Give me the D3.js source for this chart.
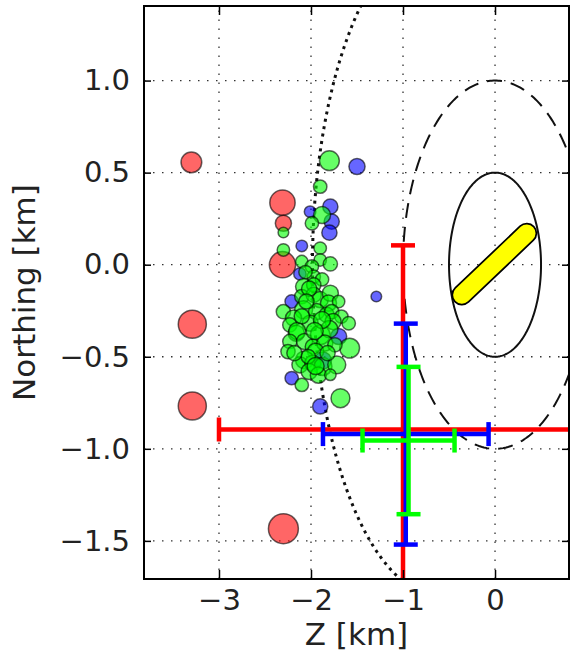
<!DOCTYPE html>
<html>
<head>
<meta charset="utf-8">
<script src="https://cdn.jsdelivr.net/npm/d3@7"></script>
<style>
    body { margin: 0; background: #fff; }
    svg { display: block; font-family: "DejaVu Sans", sans-serif; }
</style>
</head>
<body>
<div id="chart"></div>
<script>
// event locations [Z km, Northing km, magnitude]
var redEvents = [
    [-3.30, 0.556, 1.6], [-2.31, 0.337, 2.1], [-2.30, 0.225, 1.1], [-2.31, 0.0, 2.2],
    [-3.29, -0.323, 2.4], [-3.29, -0.767, 2.4], [-2.30, -1.434, 2.6]
];
var blueEvents = [
    [-1.50, 0.533, 1.1], [-1.79, 0.315, 1.0], [-2.01, 0.288, 0.6], [-1.775, 0.234, 1.0],
    [-1.80, 0.174, 1.0], [-2.10, 0.102, 0.6], [-2.12, -0.05, 0.7], [-1.29, -0.173, 0.5],
    [-2.21, -0.20, 0.8], [-1.70, -0.39, 1.1], [-1.87, -0.52, 1.2], [-2.21, -0.616, 0.8],
    [-1.90, -0.77, 1.0]
];
var greenEvents = [
    [-1.80, 0.565, 1.5], [-1.90, 0.424, 0.8], [-1.88, 0.27, 1.2], [-1.99, 0.225, 0.8],
    [-2.30, 0.175, 0.5], [-2.30, 0.08, 0.7], [-1.90, 0.09, 0.7], [-1.90, 0.026, 0.7],
    [-1.79, 0.004, 0.9], [-2.10, 0.017, 0.7], [-1.99, -0.01, 0.8], [-1.97, -0.065, 0.8],
    [-2.06, -0.04, 0.8], [-1.88, -0.08, 0.8],
    [-2.08, -0.119, 1.1], [-1.97, -0.11, 0.9], [-2.10, -0.173, 0.9], [-1.97, -0.164, 1.0],
    [-1.90, -0.19, 1.1], [-1.79, -0.155, 1.1], [-1.81, -0.209, 1.1], [-1.70, -0.20, 0.7],
    [-2.30, -0.255, 0.9], [-2.08, -0.245, 1.3], [-1.94, -0.255, 1.1], [-1.83, -0.273, 1.0],
    [-1.775, -0.255, 0.9], [-1.67, -0.282, 0.8], [-2.19, -0.29, 1.1], [-1.76, -0.309, 1.1],
    [-1.59, -0.318, 0.8], [-2.23, -0.327, 0.9], [-2.01, -0.318, 1.1], [-2.16, -0.372, 1.1],
    [-1.90, -0.381, 1.5], [-1.80, -0.35, 1.2], [-2.15, -0.36, 1.2], [-2.23, -0.417, 0.9],
    [-2.07, -0.417, 1.1], [-1.98, -0.445, 1.0], [-1.85, -0.426, 1.1], [-1.58, -0.453, 1.5],
    [-1.74, -0.435, 0.9], [-2.25, -0.472, 0.9], [-1.95, -0.47, 1.1], [-2.07, -0.517, 1.3],
    [-2.12, -0.544, 1.1], [-1.98, -0.535, 1.1], [-1.87, -0.553, 1.3], [-1.72, -0.544, 1.3],
    [-2.03, -0.499, 0.9], [-2.02, -0.58, 1.1], [-1.92, -0.60, 1.1], [-1.79, -0.598, 0.6],
    [-2.10, -0.653, 0.8], [-1.68, -0.725, 1.4], [-2.02, -0.13, 1.0], [-1.88, -0.30, 1.2],
    [-2.10, -0.28, 1.0], [-1.96, -0.36, 1.2], [-1.82, -0.48, 1.0], [-2.18, -0.48, 1.0],
    [-1.95, -0.55, 1.2], [-2.05, -0.20, 1.0]
];

// mean location with uncertainty [z, n, zErr, nErr]
var errRed = [-1.0, -0.895, 2.0, 1.0];
var errBlue = [-0.97, -0.92, 0.9, 0.6];
var errGreen = [-0.94, -0.955, 0.5, 0.4];

// ellipses [cz, cn, rz, rn]
var outerCurve = [-0.584, 0, 1.4, 1.8];
var dashedRing = [0, 0, 1.0, 1.0];
var solidRing = [0, 0, 0.5, 0.5];

// fault trace [[z, n], [z, n]]
var fault = [[-0.36, -0.164], [0.345, 0.171]];

var xTicks = [-3, -2, -1, 0];
var yTicks = [-1.5, -1.0, -0.5, 0.0, 0.5, 1.0];

var width = 570,
    height = 656,
    margin = {left: 144, top: 6, right: 1, bottom: 77};

var svg = d3.select("#chart").append("svg")
    .attr("width", width)
    .attr("height", height);

var x = d3.scaleLinear()
    .domain([-3.815, 0.804])
    .range([margin.left, width - margin.right]);
var y = d3.scaleLinear()
    .domain([-1.707, 1.405])
    .range([height - margin.bottom, margin.top]);
var r = d3.scaleLinear().domain([0, 1]).range([3, 7.6]);

svg.append("defs").append("clipPath").attr("id", "plot")
    .append("rect")
    .attr("x", margin.left).attr("y", margin.top)
    .attr("width", x.range()[1] - margin.left)
    .attr("height", y.range()[0] - margin.top);

// grid
var grid = svg.append("g")
    .attr("stroke", "#333")
    .attr("stroke-width", 1.3)
    .attr("stroke-dasharray", "1.5,7.5");
grid.selectAll(".gx").data(xTicks).enter().append("line")
    .attr("x1", d => x(d)).attr("x2", d => x(d))
    .attr("y1", y.range()[0]).attr("y2", y.range()[1]);
grid.selectAll(".gy").data(yTicks).enter().append("line")
    .attr("y1", d => y(d)).attr("y2", d => y(d))
    .attr("x1", x.range()[0]).attr("x2", x.range()[1]);

var plot = svg.append("g").attr("clip-path", "url(#plot)");

function ellipsePath(e, a0, a1) {
    var line = d3.line()
        .x(a => x(e[0] + e[2] * Math.cos(a)))
        .y(a => y(e[1] + e[3] * Math.sin(a)));
    return line(d3.range(a0, a1 + 1e-9, Math.PI / 180));
}

// only the western half of the outer curve is drawn
plot.append("path")
    .attr("d", ellipsePath(outerCurve, Math.PI / 2, 3 * Math.PI / 2))
    .attr("fill", "none")
    .attr("stroke", "#111")
    .attr("stroke-width", 3)
    .attr("stroke-dasharray", "3,4.5");
plot.append("path")
    .attr("d", ellipsePath(dashedRing, 0, 2 * Math.PI))
    .attr("fill", "none")
    .attr("stroke", "#111")
    .attr("stroke-width", 2)
    .attr("stroke-dasharray", "15,9");
plot.append("path")
    .attr("d", ellipsePath(solidRing, 0, 2 * Math.PI))
    .attr("fill", "none")
    .attr("stroke", "#111")
    .attr("stroke-width", 2);

// events
[[redEvents, "#ff0000"], [blueEvents, "#0000ff"], [greenEvents, "#00ff00"]].forEach(function (s) {
    plot.append("g").selectAll("circle")
        .data(s[0])
        .enter().append("circle")
        .attr("cx", d => x(d[0]))
        .attr("cy", d => y(d[1]))
        .attr("r", d => r(d[2]))
        .attr("fill", s[1])
        .attr("fill-opacity", 0.6)
        .attr("stroke", "#000")
        .attr("stroke-opacity", 0.6)
        .attr("stroke-width", 1.5);
});

// error bars
var cap = 12;
[[errRed, "#ff0000"], [errBlue, "#0000ff"], [errGreen, "#00ff00"]].forEach(function (s) {
    var e = s[0];
    var g = plot.append("g").attr("stroke", s[1]).attr("stroke-width", 4.5);
    g.append("line")
        .attr("x1", x(e[0] - e[2])).attr("x2", x(e[0] + e[2]))
        .attr("y1", y(e[1])).attr("y2", y(e[1]));
    g.append("line")
        .attr("x1", x(e[0])).attr("x2", x(e[0]))
        .attr("y1", y(e[1] - e[3])).attr("y2", y(e[1] + e[3]));
    [e[0] - e[2], e[0] + e[2]].forEach(function (v) {
        g.append("line")
            .attr("x1", x(v)).attr("x2", x(v))
            .attr("y1", y(e[1]) - cap).attr("y2", y(e[1]) + cap);
    });
    [e[1] - e[3], e[1] + e[3]].forEach(function (v) {
        g.append("line")
            .attr("y1", y(v)).attr("y2", y(v))
            .attr("x1", x(e[0]) - cap).attr("x2", x(e[0]) + cap);
    });
});

// fault
var faultLine = d3.line().x(d => x(d[0])).y(d => y(d[1]));
plot.append("path")
    .attr("d", faultLine(fault))
    .attr("stroke", "#000")
    .attr("stroke-width", 21)
    .attr("stroke-linecap", "round");
plot.append("path")
    .attr("d", faultLine(fault))
    .attr("stroke", "#ffff00")
    .attr("stroke-width", 17.5)
    .attr("stroke-linecap", "round");

// axes
var axBottom = svg.append("g")
    .attr("transform", "translate(0," + y.range()[0] + ")")
    .call(d3.axisBottom(x).tickValues(xTicks).tickSize(-9).tickPadding(10).tickFormat(d3.format("d")));
var axLeft = svg.append("g")
    .attr("transform", "translate(" + x.range()[0] + ",0)")
    .call(d3.axisLeft(y).tickValues(yTicks).tickSize(-7).tickPadding(14).tickFormat(d3.format(".1f")));
var axTop = svg.append("g")
    .attr("transform", "translate(0," + y.range()[1] + ")")
    .call(d3.axisTop(x).tickValues(xTicks).tickSize(-9).tickFormat(""));
var axRight = svg.append("g")
    .attr("transform", "translate(" + x.range()[1] + ",0)")
    .call(d3.axisRight(y).tickValues(yTicks).tickSize(-7).tickFormat(""));

[axBottom, axLeft, axTop, axRight].forEach(function (a) {
    a.select(".domain").remove();
    a.selectAll(".tick line").attr("stroke", "#000").attr("stroke-width", 1.5);
    a.selectAll(".tick text")
        .attr("font-family", "DejaVu Sans")
        .attr("font-size", 29)
        .attr("fill", "#222");
});

svg.append("rect")
    .attr("x", x.range()[0]).attr("y", y.range()[1])
    .attr("width", x.range()[1] - x.range()[0])
    .attr("height", y.range()[0] - y.range()[1])
    .attr("fill", "none")
    .attr("stroke", "#000")
    .attr("stroke-width", 2);

svg.append("text")
    .attr("x", (x.range()[0] + x.range()[1]) / 2)
    .attr("y", 645)
    .attr("text-anchor", "middle")
    .attr("font-size", 31)
    .attr("fill", "#222")
    .text("Z [km]");
svg.append("text")
    .attr("transform", "translate(35," + (y.range()[0] + y.range()[1]) / 2 + ") rotate(-90)")
    .attr("text-anchor", "middle")
    .attr("font-size", 31)
    .attr("fill", "#222")
    .text("Northing [km]");
</script>
</body>
</html>
